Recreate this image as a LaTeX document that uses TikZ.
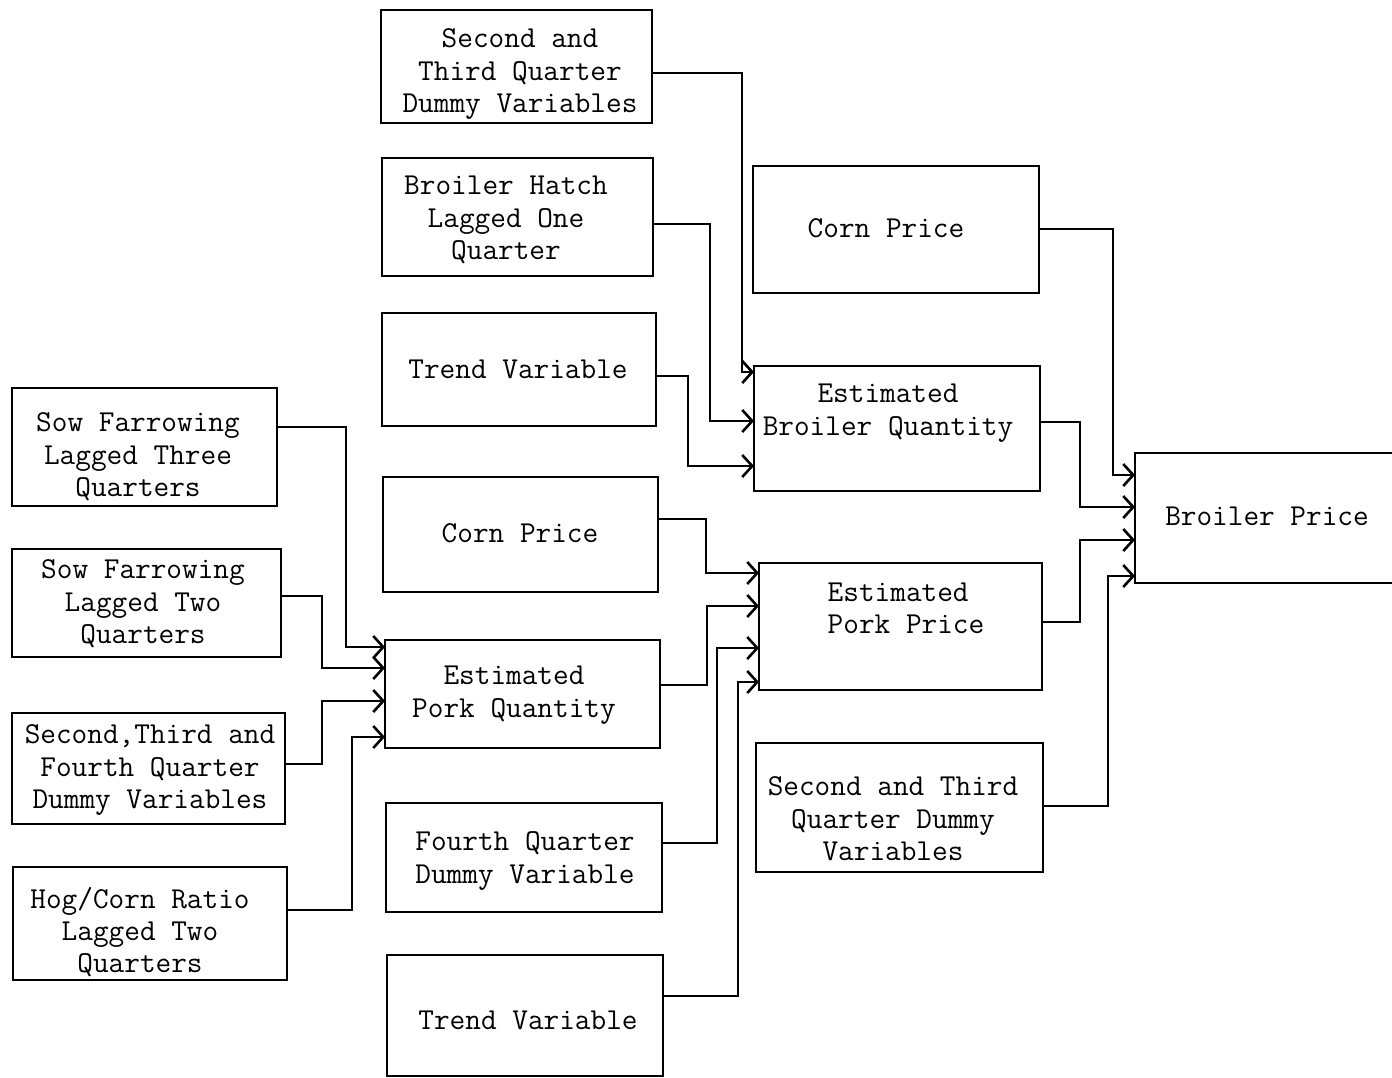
\documentclass[tikz,border=0pt]{standalone}
\usepackage{fontspec}
\usetikzlibrary{arrows.meta}
\tikzset{
  box/.style={draw, line width=2.6pt, inner sep=0pt, outer sep=0pt},
  txt/.style={font=\ttfamily\fontsize{30.4}{32.4}\selectfont, align=center, inner sep=0pt},
  conn/.style={line width=2.6pt, -{Straight Barb[length=10pt,width=22pt,line width=2.6pt]}}
}
\newcommand\bx[5]{\node[box, minimum width={#4pt-#2pt}, minimum height={#5pt-#3pt}] (#1) at ({(#2+#4)/2},{(#3+#5)/2}) {};}
\begin{document}
\begin{tikzpicture}[x=1pt,y=-1pt]
\fill[white] (0,0) rectangle (1392,1077);
\useasboundingbox (0,0) rectangle (1392,1077);
% boxes
\bx{b1}{381}{10}{652}{123}
\bx{b2}{382}{158}{653}{276}
\bx{b3}{382}{313}{656}{426}
\bx{b4}{383}{477}{658}{592}
\bx{b5}{385}{640}{660}{748}
\bx{b6}{386}{803}{662}{912}
\bx{b7}{387}{955}{663}{1076}
\bx{b8}{12}{388}{277}{506}
\bx{b9}{12}{549}{281}{657}
\bx{b10}{12}{713}{285}{824}
\bx{b11}{13}{867}{287}{980}
\bx{b12}{753}{166}{1039}{293}
\bx{b13}{754}{366}{1040}{491}
\bx{b14}{759}{563}{1042}{690}
\bx{b15}{756}{743}{1043}{872}
\bx{b16}{1135}{453}{1410}{583}
% texts
\node[txt] (t1) at (520,74) {Second and\\Third Quarter\\Dummy Variables};
\node[txt] (t2) at (506,220) {Broiler Hatch\\Lagged One\\Quarter};
\node[txt] (t3) at (518,369) {Trend Variable};
\node[txt] (t4) at (520,533) {Corn Price};
\node[txt] (t5) at (514,695) {Estimated\\Pork Quantity};
\node[txt] (t6) at (525,861) {Fourth Quarter\\Dummy Variable};
\node[txt] (t7) at (528,1020) {Trend Variable};
\node[txt] (t8) at (138,457) {Sow Farrowing\\Lagged Three\\Quarters};
\node[txt] (t9) at (143,604) {Sow Farrowing\\Lagged Two\\Quarters};
\node[txt] (t10) at (150,770) {Second,Third and\\Fourth Quarter\\Dummy Variables};
\node[txt] (t11) at (140,932) {Hog/Corn Ratio\\Lagged Two\\Quarters};
\node[txt] (t12) at (886,228) {Corn Price};
\node[txt] (t13) at (888,413) {Estimated\\Broiler Quantity};
\node[txt, align=left] (t14) at (906,608) {Estimated\\Pork Price};
\node[txt] (t15) at (893,819) {Second and Third\\Quarter Dummy\\Variables};
\node[txt] (t16) at (1267,516) {Broiler Price};
% connectors
\draw[conn] (b1.east |- 0,73) -| (742,372) -- (b13.west |- 0,372);
\draw[conn] (b2.east |- 0,224) -| (710,421) -- (b13.west |- 0,421);
\draw[conn] (b3.east |- 0,376) -| (688,466) -- (b13.west |- 0,466);
\draw[conn] (b12.east |- 0,229) -| (1113,475) -- (b16.west |- 0,475);
\draw[conn] (b13.east |- 0,422) -| (1080,507) -- (b16.west |- 0,507);
\draw[conn] (b14.east |- 0,622) -| (1080,540) -- (b16.west |- 0,540);
\draw[conn] (b15.east |- 0,806) -| (1108,576) -- (b16.west |- 0,576);
\draw[conn] (b4.east |- 0,519) -| (706,573) -- (b14.west |- 0,573);
\draw[conn] (b5.east |- 0,685) -| (707,606) -- (b14.west |- 0,606);
\draw[conn] (b6.east |- 0,843) -| (717,648) -- (b14.west |- 0,648);
\draw[conn] (b7.east |- 0,996) -| (738,682) -- (b14.west |- 0,682);
\draw[conn] (b8.east |- 0,427) -| (346,647) -- (b5.west |- 0,647);
\draw[conn] (b9.east |- 0,596) -| (322,668) -- (b5.west |- 0,668);
\draw[conn] (b10.east |- 0,764) -| (322,701) -- (b5.west |- 0,701);
\draw[conn] (b11.east |- 0,910) -| (352,737) -- (b5.west |- 0,737);
\end{tikzpicture}
\end{document}
